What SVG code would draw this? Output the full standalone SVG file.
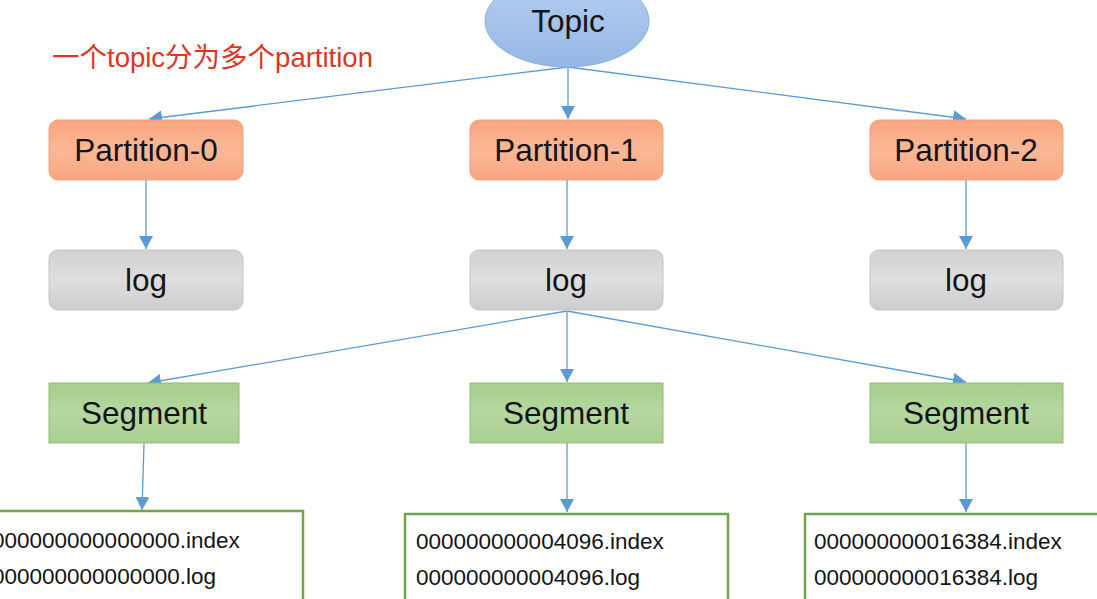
<svg xmlns="http://www.w3.org/2000/svg" width="1097" height="599" viewBox="0 0 1097 599">
<defs>
<linearGradient id="gTopic" x1="0" y1="0" x2="0" y2="1"><stop offset="0" stop-color="#b7cff0"/><stop offset="1" stop-color="#95b7e6"/></linearGradient>
<linearGradient id="gPart" x1="0" y1="0" x2="0" y2="1"><stop offset="0" stop-color="#f9a47e"/><stop offset="0.5" stop-color="#fab896"/><stop offset="1" stop-color="#f9a57f"/></linearGradient>
<linearGradient id="gLog" x1="0" y1="0" x2="0" y2="1"><stop offset="0" stop-color="#d2d2d2"/><stop offset="0.5" stop-color="#dedede"/><stop offset="1" stop-color="#cdcdcd"/></linearGradient>
<linearGradient id="gSeg" x1="0" y1="0" x2="0" y2="1"><stop offset="0" stop-color="#a6cf8c"/><stop offset="0.5" stop-color="#b5d7a0"/><stop offset="1" stop-color="#a9d08f"/></linearGradient>
<marker id="arr" markerUnits="userSpaceOnUse" markerWidth="14" markerHeight="14" refX="13" refY="7" orient="auto"><path d="M0,0 L13,7 L0,14 z" fill="#5b9bd5"/></marker>
<style>
.lbl{font-family:"Liberation Sans",Arial,sans-serif;font-size:31.5px;fill:#141414;text-anchor:middle}
.file{font-family:"Liberation Sans",Arial,sans-serif;font-size:22.5px;fill:#141414}
.part{fill:url(#gPart);stroke:#f2a07a;stroke-width:1}
.log{fill:url(#gLog);stroke:#c4c4c4;stroke-width:1}
.seg{fill:url(#gSeg);stroke:#8fbf72;stroke-width:1}
.fbox{fill:#ffffff;stroke:#70a548;stroke-width:2.5}
.conn{stroke:#5b9bd5;stroke-width:1.3;fill:none;marker-end:url(#arr)}
.note{font-family:"Liberation Sans","Noto Sans CJK SC",sans-serif;font-size:27.5px;fill:#e03424}
</style>
</defs>
<rect width="1097" height="599" fill="#ffffff"/>
<text class="note" x="52" y="67">一个topic分为多个partition</text>
<g id="connectors">
<line class="conn" x1="568" y1="67" x2="149" y2="119"/>
<line class="conn" x1="568" y1="67" x2="568" y2="119"/>
<line class="conn" x1="568" y1="67" x2="966" y2="119"/>
<line class="conn" x1="146" y1="180" x2="146" y2="249"/>
<line class="conn" x1="567" y1="180" x2="567" y2="249"/>
<line class="conn" x1="966" y1="180" x2="966" y2="249"/>
<line class="conn" x1="567" y1="311" x2="148" y2="383"/>
<line class="conn" x1="567" y1="311" x2="567" y2="382"/>
<line class="conn" x1="567" y1="311" x2="966" y2="382"/>
<line class="conn" x1="144" y1="443" x2="142" y2="510"/>
<line class="conn" x1="567" y1="443" x2="567" y2="512"/>
<line class="conn" x1="966" y1="443" x2="966" y2="512"/>
</g>
<g id="topic"><ellipse cx="567" cy="21" rx="82" ry="46" fill="url(#gTopic)" stroke="#8cb0df" stroke-width="1"/><text class="lbl" x="568" y="32">Topic</text></g>
<g id="partition0"><rect class="part" x="49" y="120" width="194" height="60" rx="9"/><text class="lbl" x="146" y="161">Partition-0</text></g>
<g id="partition1"><rect class="part" x="470" y="120" width="193" height="60" rx="9"/><text class="lbl" x="566" y="161">Partition-1</text></g>
<g id="partition2"><rect class="part" x="870" y="120" width="193" height="60" rx="9"/><text class="lbl" x="966" y="161">Partition-2</text></g>
<g id="log0"><rect class="log" x="49" y="250" width="194" height="60" rx="9"/><text class="lbl" x="146" y="291">log</text></g>
<g id="log1"><rect class="log" x="470" y="250" width="193" height="60" rx="9"/><text class="lbl" x="566" y="291">log</text></g>
<g id="log2"><rect class="log" x="870" y="250" width="193" height="60" rx="9"/><text class="lbl" x="966" y="291">log</text></g>
<g id="segment0"><rect class="seg" x="49" y="383" width="190" height="60"/><text class="lbl" x="144" y="424">Segment</text></g>
<g id="segment1"><rect class="seg" x="470" y="383" width="193" height="60"/><text class="lbl" x="566" y="424">Segment</text></g>
<g id="segment2"><rect class="seg" x="870" y="383" width="193" height="60"/><text class="lbl" x="966" y="424">Segment</text></g>
<g id="files0"><rect class="fbox" x="-20" y="511" width="323" height="110"/><text class="file" x="-8" y="548">000000000000000.index</text><text class="file" x="-8" y="584">000000000000000.log</text></g>
<g id="files1"><rect class="fbox" x="405" y="514" width="323" height="110"/><text class="file" x="416" y="549">000000000004096.index</text><text class="file" x="416" y="585">000000000004096.log</text></g>
<g id="files2"><rect class="fbox" x="805" y="514" width="323" height="110"/><text class="file" x="814" y="549">000000000016384.index</text><text class="file" x="814" y="585">000000000016384.log</text></g>
</svg>
